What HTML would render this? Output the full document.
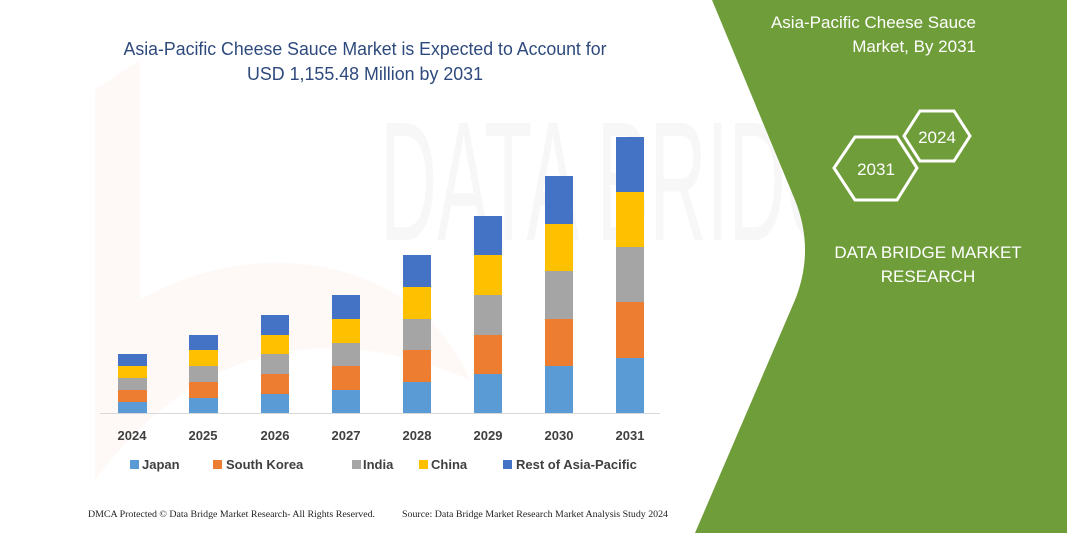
<!DOCTYPE html>
<html><head><meta charset="utf-8"><style>
html,body{margin:0;padding:0;background:#fff;}
svg{display:block;font-family:"Liberation Sans",sans-serif;}
</style></head><body>
<svg width="1067" height="533" viewBox="0 0 1067 533">
<rect width="1067" height="533" fill="#fff"/>
<!-- faint watermark -->
<path d="M95 90 L140 60 L140 300 C260 230 420 260 470 380 C330 320 200 340 95 480 Z" fill="#fdf3ee" opacity="0.5"/>
<text x="380" y="240" font-size="170" fill="#f7f7f7" textLength="520" lengthAdjust="spacingAndGlyphs">DATA BRIDGE</text>
<!-- green panel -->
<path d="M712 0 L1067 0 L1067 533 L695 533 L795 300 Q815 250 795 200 Z" fill="#6f9d3a"/>
<text x="976" y="28" font-size="17" fill="#fff" text-anchor="end">Asia-Pacific Cheese Sauce</text>
<text x="976" y="52" font-size="17" fill="#fff" text-anchor="end">Market, By 2031</text>
<polygon points="855,137 897,137 917,168 897,200 855,200 834,168" fill="none" stroke="#fff" stroke-width="3"/>
<text x="876" y="175" font-size="17" fill="#fff" text-anchor="middle">2031</text>
<polygon points="920,111 954,111 970,136 954,161 920,161 904,136" fill="none" stroke="#fff" stroke-width="3"/>
<text x="937" y="143" font-size="17" fill="#fff" text-anchor="middle">2024</text>
<text x="928" y="258" font-size="17" fill="#fff" text-anchor="middle">DATA BRIDGE MARKET</text>
<text x="928" y="282" font-size="17" fill="#fff" text-anchor="middle">RESEARCH</text>
<!-- title -->
<text x="365" y="55" font-size="18" fill="#2e4a7d" text-anchor="middle" textLength="483" lengthAdjust="spacingAndGlyphs">Asia-Pacific Cheese Sauce Market is Expected to Account for</text>
<text x="365" y="80" font-size="18" fill="#2e4a7d" text-anchor="middle" textLength="236" lengthAdjust="spacingAndGlyphs">USD 1,155.48 Million by 2031</text>
<!-- bars -->
<g>
<rect x="118" y="354" width="29" height="12" fill="#4472c4"/><rect x="118" y="366" width="29" height="12" fill="#ffc000"/><rect x="118" y="378" width="29" height="12" fill="#a5a5a5"/><rect x="118" y="390" width="29" height="12" fill="#ed7d31"/><rect x="118" y="402" width="29" height="11" fill="#5b9bd5"/>
<rect x="189" y="335" width="29" height="15" fill="#4472c4"/><rect x="189" y="350" width="29" height="16" fill="#ffc000"/><rect x="189" y="366" width="29" height="16" fill="#a5a5a5"/><rect x="189" y="382" width="29" height="16" fill="#ed7d31"/><rect x="189" y="398" width="29" height="15" fill="#5b9bd5"/>
<rect x="261" y="315" width="28" height="20" fill="#4472c4"/><rect x="261" y="335" width="28" height="19" fill="#ffc000"/><rect x="261" y="354" width="28" height="20" fill="#a5a5a5"/><rect x="261" y="374" width="28" height="20" fill="#ed7d31"/><rect x="261" y="394" width="28" height="19" fill="#5b9bd5"/>
<rect x="332" y="295" width="28" height="24" fill="#4472c4"/><rect x="332" y="319" width="28" height="24" fill="#ffc000"/><rect x="332" y="343" width="28" height="23" fill="#a5a5a5"/><rect x="332" y="366" width="28" height="24" fill="#ed7d31"/><rect x="332" y="390" width="28" height="23" fill="#5b9bd5"/>
<rect x="403" y="255" width="28" height="32" fill="#4472c4"/><rect x="403" y="287" width="28" height="32" fill="#ffc000"/><rect x="403" y="319" width="28" height="31" fill="#a5a5a5"/><rect x="403" y="350" width="28" height="32" fill="#ed7d31"/><rect x="403" y="382" width="28" height="31" fill="#5b9bd5"/>
<rect x="474" y="216" width="28" height="39" fill="#4472c4"/><rect x="474" y="255" width="28" height="40" fill="#ffc000"/><rect x="474" y="295" width="28" height="40" fill="#a5a5a5"/><rect x="474" y="335" width="28" height="39" fill="#ed7d31"/><rect x="474" y="374" width="28" height="39" fill="#5b9bd5"/>
<rect x="545" y="176" width="28" height="48" fill="#4472c4"/><rect x="545" y="224" width="28" height="47" fill="#ffc000"/><rect x="545" y="271" width="28" height="48" fill="#a5a5a5"/><rect x="545" y="319" width="28" height="47" fill="#ed7d31"/><rect x="545" y="366" width="28" height="47" fill="#5b9bd5"/>
<rect x="616" y="137" width="28" height="55" fill="#4472c4"/><rect x="616" y="192" width="28" height="55" fill="#ffc000"/><rect x="616" y="247" width="28" height="55" fill="#a5a5a5"/><rect x="616" y="302" width="28" height="56" fill="#ed7d31"/><rect x="616" y="358" width="28" height="55" fill="#5b9bd5"/>
</g>
<line x1="100" y1="413.5" x2="660" y2="413.5" stroke="#d9d9d9" stroke-width="1"/>
<g font-size="13" font-weight="bold" fill="#404040" text-anchor="middle">
<text x="132" y="440">2024</text><text x="203" y="440">2025</text><text x="275" y="440">2026</text><text x="346" y="440">2027</text><text x="417" y="440">2028</text><text x="488" y="440">2029</text><text x="559" y="440">2030</text><text x="630" y="440">2031</text>
</g>
<g font-size="13" font-weight="bold" fill="#404040">
<rect x="130" y="460" width="9" height="9" fill="#5b9bd5"/><text x="142" y="469">Japan</text>
<rect x="213" y="460" width="9" height="9" fill="#ed7d31"/><text x="226" y="469">South Korea</text>
<rect x="352" y="460" width="9" height="9" fill="#a5a5a5"/><text x="363" y="469">India</text>
<rect x="419" y="460" width="9" height="9" fill="#ffc000"/><text x="431" y="469">China</text>
<rect x="503" y="460" width="9" height="9" fill="#4472c4"/><text x="516" y="469">Rest of Asia-Pacific</text>
</g>
<g font-family="Liberation Serif,serif" font-size="9" fill="#222">
<text x="88" y="517" textLength="287" lengthAdjust="spacingAndGlyphs">DMCA Protected © Data Bridge Market Research-  All Rights Reserved.</text>
<text x="402" y="517" textLength="266" lengthAdjust="spacingAndGlyphs">Source: Data Bridge Market Research  Market Analysis Study 2024</text>
</g>
</svg>
</body></html>
